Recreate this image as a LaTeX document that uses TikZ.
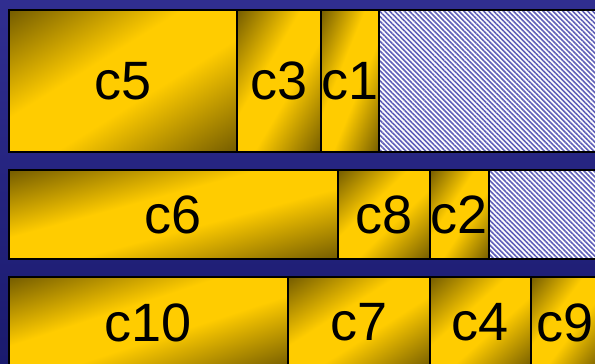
\documentclass[tikz,border=0pt]{standalone}
\usepackage{fontspec}
\setmainfont{Liberation Sans}
\usepackage{xcolor}
\usepackage{tikz}
\usetikzlibrary{calc,patterns.meta}
\definecolor{slotNavyTop}{RGB}{48,46,144}
\definecolor{slotNavyBot}{RGB}{26,26,110}
\definecolor{slotGold}{RGB}{255,204,0}
\definecolor{slotDark}{RGB}{116,92,0}
\definecolor{slotHatch}{RGB}{96,96,184}
\pgfdeclarehorizontalshading{slotshade}{100bp}{color(0bp)=(slotDark); color(25bp)=(slotDark); color(44bp)=(slotGold); color(55bp)=(slotGold); color(75bp)=(slotDark); color(100bp)=(slotDark)}

\begin{document}
\begin{tikzpicture}[x=1pt, y=1pt, font=\fontsize{54}{64}\selectfont]
\tikzstyle{job}=[draw=black, line width=1.2pt, inner sep=0pt,
  path picture={
    \path let \p1=(path picture bounding box.south west), \p2=(path picture bounding box.north east) in
      \pgfextra{\pgfmathsetmacro\slotw{(\x2-\x1)/100}\pgfmathsetmacro\sloth{(\y2-\y1)/100}%
        \pgfmathsetmacro\slotang{atan2(\sloth,\slotw)-90}%
        \pgfmathsetmacro\slotn{100*\slotw*\sloth/veclen(\slotw,\sloth)}%
        \pgfmathsetmacro\slotd{50*veclen(\slotw,\sloth)}%
        \xdef\slotang{\slotang}\xdef\slotn{\slotn}\xdef\slotd{\slotd}};
    \shade[shading=slotshade, transform canvas={rotate around={\slotang:(path picture bounding box.center)}}]
      ($(path picture bounding box.center)+(-\slotn,-\slotd)$) rectangle ($(path picture bounding box.center)+(\slotn,\slotd)$);}]
\tikzstyle{free}=[draw=black, line width=1.2pt, preaction={fill=white}, pattern={Lines[angle=-45, distance=3.5pt, line width=1.6pt]}, pattern color=slotHatch, inner sep=0pt]
\tikzstyle{rowa}=[minimum height=142pt]
\tikzstyle{rowb}=[minimum height=89pt]
\tikzstyle{rowc}=[minimum height=91pt]
\useasboundingbox (0,0) rectangle (595,364);
\fill[top color=slotNavyTop, bottom color=slotNavyBot] (0,0) rectangle (595,364);
% first row
\node[job, rowa, minimum width=228pt] (c5) at (123,283) {c5};
\node[job, rowa, minimum width=84pt] (c3) at (279,283) {c3};
\node[job, rowa, minimum width=58pt] (c1) at (350,283) {c1};
\node[free, rowa, minimum width=221pt] (idle1) at (489.5,283) {};
% second row
\node[job, rowb, minimum width=329pt] (c6) at (173.5,149.5) {c6};
\node[job, rowb, minimum width=92pt] (c8) at (384,149.5) {c8};
\node[job, rowb, minimum width=59pt] (c2) at (459.5,149.5) {c2};
\node[free, rowb, minimum width=111pt] (idle2) at (544.5,149.5) {};
% third row
\node[job, rowc, minimum width=279pt] (c10) at (148.5,41.5) {c10};
\node[job, rowc, minimum width=142pt] (c7) at (359,41.5) {c7};
\node[job, rowc, minimum width=101pt] (c4) at (480.5,41.5) {c4};
\node[job, rowc, minimum width=69pt] (c9) at (565.5,41.5) {c9};
\end{tikzpicture}
\end{document}
